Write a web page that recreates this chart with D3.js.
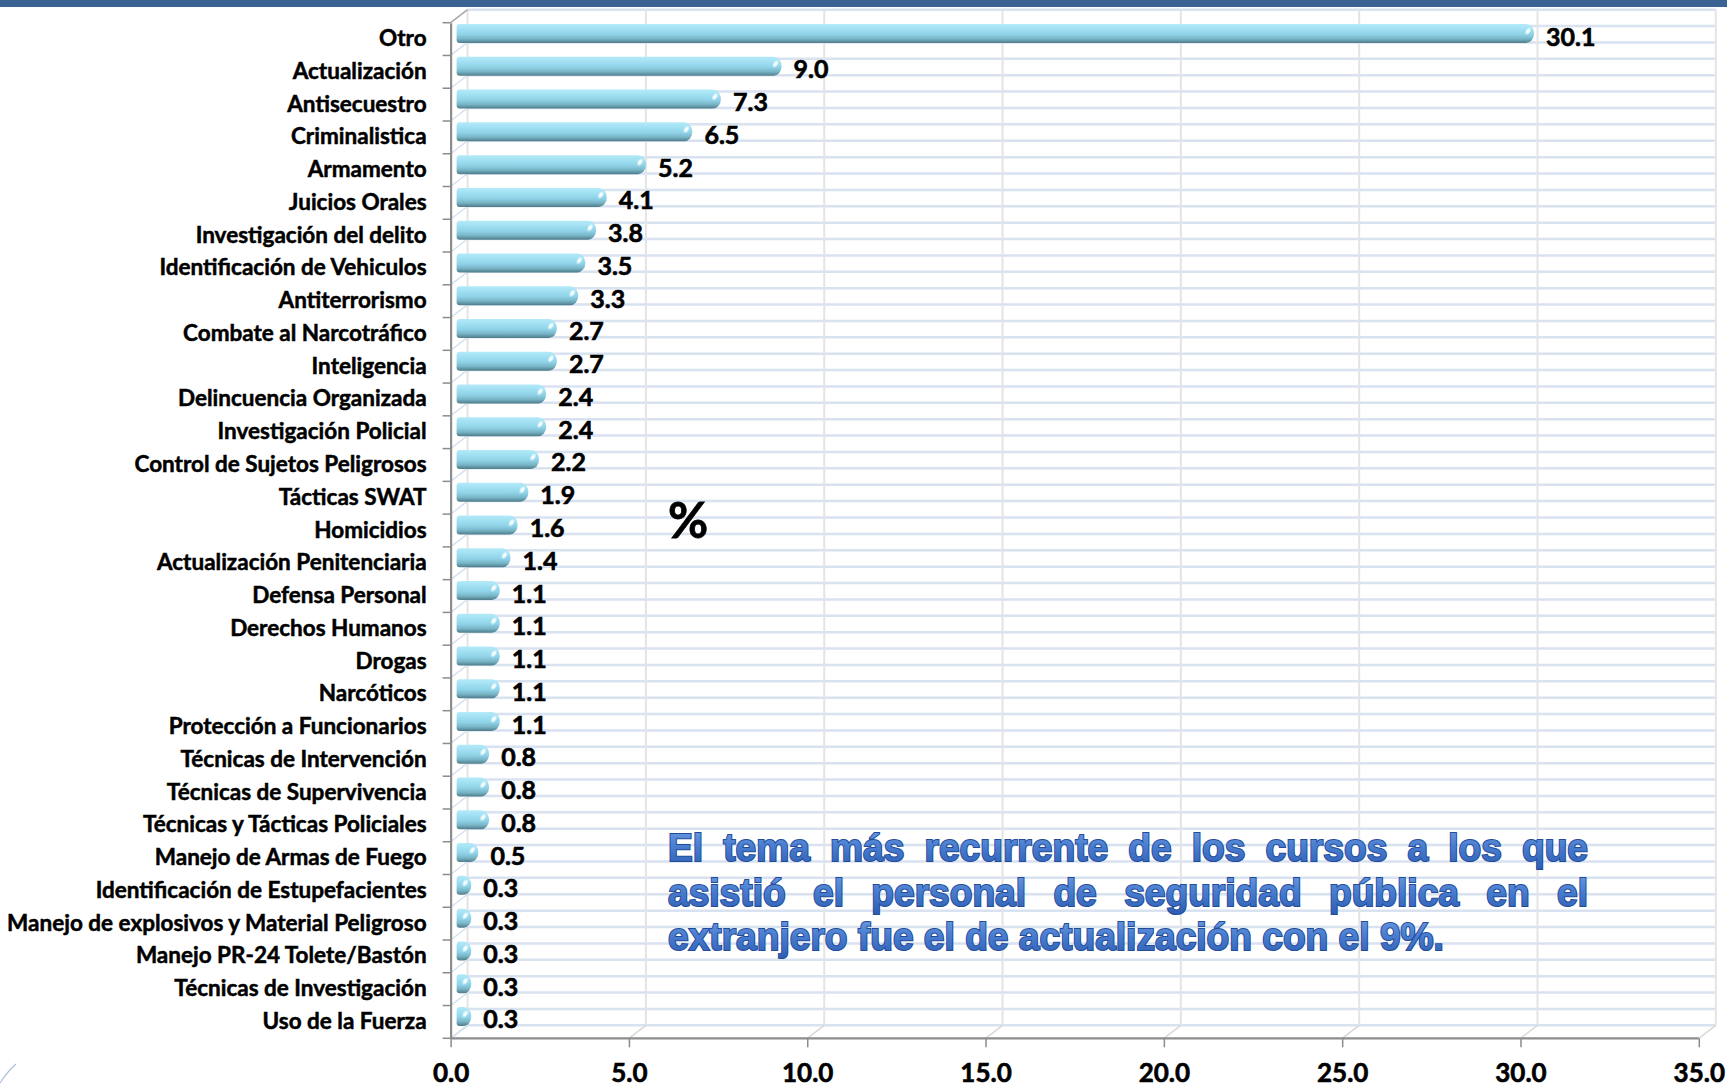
<!DOCTYPE html>
<html>
<head>
<meta charset="utf-8">
<script src="https://cdn.jsdelivr.net/npm/d3@7"></script>
<style>
  html, body { margin: 0; padding: 0; background: #fff; }
  svg { display: block; }
</style>
</head>
<body>
<div class="chart"></div>
<script>
// categories, top to bottom
let categories = ['Otro', 'Actualización', 'Antisecuestro', 'Criminalistica', 'Armamento',
  'Juicios Orales', 'Investigación del delito', 'Identificación de Vehiculos', 'Antiterrorismo',
  'Combate al Narcotráfico', 'Inteligencia', 'Delincuencia Organizada', 'Investigación Policial',
  'Control de Sujetos Peligrosos', 'Tácticas SWAT', 'Homicidios', 'Actualización Penitenciaria',
  'Defensa Personal', 'Derechos Humanos', 'Drogas', 'Narcóticos', 'Protección a Funcionarios',
  'Técnicas de Intervención', 'Técnicas de Supervivencia', 'Técnicas y Tácticas Policiales',
  'Manejo de Armas de Fuego', 'Identificación de Estupefacientes',
  'Manejo de explosivos y Material Peligroso', 'Manejo PR-24 Tolete/Bastón',
  'Técnicas de Investigación', 'Uso de la Fuerza'];

let values = [30.1, 9.0, 7.3, 6.5, 5.2, 4.1, 3.8, 3.5, 3.3, 2.7, 2.7, 2.4, 2.4, 2.2, 1.9, 1.6, 1.4,
  1.1, 1.1, 1.1, 1.1, 1.1, 0.8, 0.8, 0.8, 0.5, 0.3, 0.3, 0.3, 0.3, 0.3];

let xTicks = [0, 5, 10, 15, 20, 25, 30, 35];

let unitLabel = '%';

let noteLines = [
  'El tema más recurrente de los cursos a los que',
  'asistió el personal de seguridad pública en el',
  'extranjero fue el de actualización con el 9%.'
];

var width = 1727,
    height = 1089;

var labelFont = 'Lato, "Open Sans", sans-serif';

// 3d depth offset of the back wall
var depthX = 17,
    depthY = -13;

var x = d3.scaleLinear()
    .domain([0, 35])
    .range([450.6, 1698.8]);

var y = d3.scaleBand()
    .domain(categories)
    .range([22.7, 1038.3]);

var svg = d3.select('.chart')
    .append('svg')
    .attr('width', width)
    .attr('height', height);

var defs = svg.append('defs');

var barGrad = defs.append('linearGradient')
    .attr('id', 'barGrad')
    .attr('x1', 0).attr('y1', 0).attr('x2', 0).attr('y2', 1);
[['0%', '#b4eaf8'], ['25%', '#a2e1f3'], ['55%', '#8fd2e7'], ['78%', '#78b5c6'], ['100%', '#4e7b89']]
  .forEach(function(s) {
    barGrad.append('stop').attr('offset', s[0]).attr('stop-color', s[1]);
  });

var hiGrad = defs.append('radialGradient')
    .attr('id', 'hiGrad');
[['0%', '#ffffff', 1], ['45%', '#f4fcff', 0.9], ['100%', '#c8f0fa', 0]]
  .forEach(function(s) {
    hiGrad.append('stop').attr('offset', s[0]).attr('stop-color', s[1]).attr('stop-opacity', s[2]);
  });

var noteGrad = defs.append('linearGradient')
    .attr('id', 'noteGrad')
    .attr('x1', 0).attr('y1', 0).attr('x2', 0).attr('y2', 1);
[['0%', '#6f9de2'], ['45%', '#4a7ed0'], ['100%', '#2d5db2']]
  .forEach(function(s) {
    noteGrad.append('stop').attr('offset', s[0]).attr('stop-color', s[1]);
  });

// top slide band
svg.append('rect')
  .attr('x', 0).attr('y', 0)
  .attr('width', width).attr('height', 7)
  .attr('fill', '#3a6292');

// corner decoration bottom left
svg.append('path')
  .attr('d', 'M0,1083 Q7,1072 16,1064')
  .attr('fill', 'none')
  .attr('stroke', '#a9bfdd')
  .attr('stroke-width', 1.2);

var x0 = x(0),
    xEnd = x(35),
    yTop = y.range()[0],
    yBottom = y.range()[1];

// back wall horizontal stripes (every half row)
var stripes = [];
categories.forEach(function(c) {
  stripes.push(y(c));
  stripes.push(y(c) + y.bandwidth() / 2);
});
stripes.push(yBottom);

svg.append('g')
  .selectAll('line')
  .data(stripes)
  .enter()
  .append('line')
  .attr('x1', x0 + depthX)
  .attr('x2', xEnd + depthX)
  .attr('y1', (d) => d + depthY)
  .attr('y2', (d) => d + depthY)
  .attr('stroke', '#d8e2f0')
  .attr('stroke-width', 2.5);

// back wall vertical gridlines
svg.append('g')
  .selectAll('line')
  .data(xTicks)
  .enter()
  .append('line')
  .attr('x1', (d) => x(d) + depthX)
  .attr('x2', (d) => x(d) + depthX)
  .attr('y1', yTop + depthY)
  .attr('y2', yBottom + depthY)
  .attr('stroke', '#e4e4e4')
  .attr('stroke-width', 2);

// floor diagonals
svg.append('g')
  .selectAll('line')
  .data(xTicks)
  .enter()
  .append('line')
  .attr('x1', (d) => x(d))
  .attr('x2', (d) => x(d) + depthX)
  .attr('y1', yBottom)
  .attr('y2', yBottom + depthY)
  .attr('stroke', '#d8d8d8')
  .attr('stroke-width', 1.5);

// side wall diagonals
var bounds = categories.map((c) => y(c)).concat([yBottom]);
svg.append('g')
  .selectAll('line')
  .data(bounds)
  .enter()
  .append('line')
  .attr('x1', x0)
  .attr('x2', x0 + depthX)
  .attr('y1', (d) => d)
  .attr('y2', (d) => d + depthY)
  .attr('stroke', (d, i) => i === 0 ? '#a8a8a8' : '#d6e1ef')
  .attr('stroke-width', 1.5);

// axes
var yAxis = d3.axisLeft(y).tickSize(0).tickFormat('');
svg.append('g')
  .attr('transform', 'translate(' + x0 + ',0)')
  .call(yAxis)
  .call((g) => g.select('.domain').attr('stroke', '#8c8c8c').attr('stroke-width', 2.2));

svg.append('g')
  .selectAll('line')
  .data(bounds)
  .enter()
  .append('line')
  .attr('x1', x0 - 8)
  .attr('x2', x0)
  .attr('y1', (d) => d)
  .attr('y2', (d) => d)
  .attr('stroke', '#8c8c8c')
  .attr('stroke-width', 1.5);

var xAxis = d3.axisBottom(x)
  .tickValues(xTicks)
  .tickSize(9)
  .tickPadding(16)
  .tickFormat(d3.format('.1f'));

svg.append('g')
  .attr('transform', 'translate(0,' + yBottom + ')')
  .call(xAxis)
  .call((g) => g.select('.domain').attr('stroke', '#8c8c8c').attr('stroke-width', 2.2).attr('d', 'M' + x0 + ',0H' + xEnd))
  .call((g) => g.selectAll('.tick line').attr('stroke', '#8c8c8c').attr('stroke-width', 1.5))
  .call((g) => g.selectAll('.tick text')
    .attr('fill', '#000')
    .attr('stroke', '#000')
    .attr('stroke-width', 0.6)
    .style('font-family', labelFont)
    .style('font-weight', 'bold')
    .style('font-size', '26px'));

// category labels
svg.append('g')
  .selectAll('text')
  .data(categories)
  .enter()
  .append('text')
  .attr('x', x0 - 24)
  .attr('y', (d) => y(d) + y.bandwidth() / 2 + 7)
  .attr('text-anchor', 'end')
  .style('font-family', labelFont)
  .style('font-weight', 'bold')
  .style('font-size', '22.5px')
  .attr('fill', '#000')
  .attr('stroke', '#000')
  .attr('stroke-width', 0.5)
  .text((d) => d);

// bars (cylinders)
var barH = 19,
    barShift = -5.5;

var rows = categories.map((c, i) => ({ cat: c, value: values[i] }));

function barTop(d) {
  return y(d.cat) + y.bandwidth() / 2 + barShift - barH / 2;
}

function barEnd(d) {
  return x(d.value) + 10;
}

function barPath(d) {
  var xa = x0 + 6,
      xb = barEnd(d),
      top = barTop(d),
      r = Math.min(8, (xb - xa) / 2),
      h = barH;
  return 'M' + xa + ',' + (top + 3) +
    'Q' + xa + ',' + top + ' ' + (xa + 3) + ',' + top +
    'H' + (xb - r) +
    'A' + r + ',' + (h / 2) + ' 0 0 1 ' + (xb - r) + ',' + (top + h) +
    'H' + (xa + 3) +
    'Q' + xa + ',' + (top + h) + ' ' + xa + ',' + (top + h - 3) + 'Z';
}

var bars = svg.append('g')
  .selectAll('g')
  .data(rows)
  .enter()
  .append('g');

bars.append('path')
  .attr('d', barPath)
  .attr('fill', 'url(#barGrad)');

// highlight on the rounded end
bars.append('ellipse')
  .attr('cx', (d) => barEnd(d) - 6)
  .attr('cy', (d) => barTop(d) + 7)
  .attr('rx', 3)
  .attr('ry', 5)
  .attr('transform', (d) => 'rotate(35,' + (barEnd(d) - 6) + ',' + (barTop(d) + 7) + ')')
  .attr('fill', 'url(#hiGrad)');

// value labels
svg.append('g')
  .selectAll('text')
  .data(rows)
  .enter()
  .append('text')
  .attr('x', (d) => barEnd(d) + 12)
  .attr('y', (d) => y(d.cat) + y.bandwidth() / 2 + 6.5)
  .style('font-family', labelFont)
  .style('font-weight', 'bold')
  .style('font-size', '25px')
  .attr('fill', '#000')
  .attr('stroke', '#000')
  .attr('stroke-width', 0.6)
  .text((d) => d3.format('.1f')(d.value));

// unit label
svg.append('text')
  .attr('x', 668)
  .attr('y', 538)
  .style('font-family', labelFont)
  .style('font-weight', 'bold')
  .style('font-size', '49px')
  .attr('fill', '#000')
  .attr('stroke', '#000')
  .attr('stroke-width', 0.8)
  .text(unitLabel);

// note box, justified
var noteLeft = 668,
    noteRight = 1588,
    lastLineWidth = 776,
    noteBase = 861,
    noteStep = 44.6;

var note = svg.append('g')
  .style('font-family', '"Liberation Sans", Arial, sans-serif')
  .style('font-weight', 'bold')
  .style('font-size', '38px');

var probe = note.append('text').text(noteLines[2]);
var sx = lastLineWidth / probe.node().getComputedTextLength();
probe.remove();

noteLines.forEach(function(line, li) {
  var words = line.split(' ');
  var lineG = note.append('g')
    .attr('transform', 'translate(' + noteLeft + ',' + (noteBase + li * noteStep) + ') scale(' + sx + ',1)');
  var texts = words.map(function(w) {
    return lineG.append('text')
      .text(w)
      .attr('fill', 'url(#noteGrad)')
      .attr('stroke', '#234c98')
      .attr('stroke-width', 2)
      .attr('paint-order', 'stroke');
  });
  var widths = texts.map((t) => t.node().getComputedTextLength());
  var total = d3.sum(widths);
  var gap;
  if (li < noteLines.length - 1) {
    gap = ((noteRight - noteLeft) / sx - total) / (words.length - 1);
  } else {
    var space = lineG.append('text').text('a a');
    var spW = space.node().getComputedTextLength();
    space.text('aa');
    spW -= space.node().getComputedTextLength();
    space.remove();
    gap = spW;
  }
  var pos = 0;
  texts.forEach(function(t, i) {
    t.attr('x', pos);
    pos += widths[i] + gap;
  });
});
</script>
</body>
</html>
